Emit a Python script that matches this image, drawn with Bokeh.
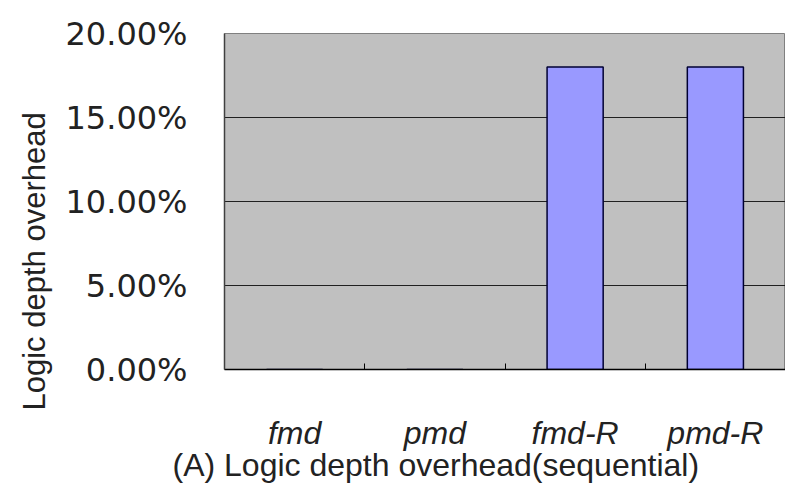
from bokeh.plotting import figure
from bokeh.models import FixedTicker, NumeralTickFormatter, Range1d, Title, ColumnDataSource
from bokeh.embed import file_html
from bokeh.resources import INLINE

categories = ["fmd", "pmd", "fmd-R", "pmd-R"]
values = [0.0, 0.0, 0.18, 0.18]
y_ticks = [0.0, 0.05, 0.10, 0.15, 0.20]

FONT = "Liberation Sans"
TICK_FONT = "DejaVu Sans"
xs = [i + 0.5 for i in range(len(categories))]
src = ColumnDataSource(dict(x=xs, top=values))

p = figure(width=785, height=492, output_backend="svg", toolbar_location=None,
           x_range=Range1d(0, len(categories)), y_range=Range1d(0, 0.20),
           min_border_left=224, min_border_right=0, min_border_top=33, min_border_bottom=123)
p.background_fill_color = "#C0C0C0"
p.border_fill_color = "white"
p.outline_line_color = "#808080"
p.outline_line_width = 1

p.vbar(x="x", top="top", width=0.4, bottom=0, source=src,
       fill_color="#9999FF", line_color="#000033", line_width=1.5)

# x axis
p.xaxis.ticker = FixedTicker(ticks=xs, minor_ticks=list(range(1, len(categories))))
p.xaxis.major_label_overrides = {x: c for x, c in zip(xs, categories)}
p.xaxis.major_tick_line_color = None
p.xaxis.minor_tick_in = 6
p.xaxis.minor_tick_out = 0
p.xaxis.minor_tick_line_color = "black"
p.xaxis.axis_line_color = "black"
p.xaxis.axis_line_width = 1.5
p.xaxis.major_label_text_font = FONT
p.xaxis.major_label_text_font_style = "italic"
p.xaxis.major_label_text_font_size = "32px"
p.xaxis.major_label_text_color = "#222222"
p.xaxis.major_label_standoff = 39
p.xgrid.visible = False

# y axis
p.yaxis.ticker = FixedTicker(ticks=y_ticks)
p.yaxis.formatter = NumeralTickFormatter(format="0.00%")
p.yaxis.major_tick_line_color = None
p.yaxis.minor_tick_line_color = None
p.yaxis.axis_line_color = "#404040"
p.yaxis.axis_line_width = 1.5
p.yaxis.major_label_text_font = TICK_FONT
p.yaxis.major_label_text_font_size = "32px"
p.yaxis.major_label_text_color = "#222222"
p.yaxis.major_label_standoff = 31
p.ygrid.grid_line_color = "#202020"
p.ygrid.grid_line_width = 1.2

p.add_layout(Title(text="Logic depth overhead", text_font=FONT, text_font_size="31px",
                   text_font_style="normal", text_color="#222222", align="left", offset=-41,
                   vertical_align="top", standoff=17), "left")
p.add_layout(Title(text="(A) Logic depth overhead(sequential)", text_font=FONT, text_font_size="32px",
                   text_font_style="normal", text_color="#222222", align="left", offset=-52,
                   standoff=-18), "below")

open("out.html", "w").write(file_html(p, INLINE))
